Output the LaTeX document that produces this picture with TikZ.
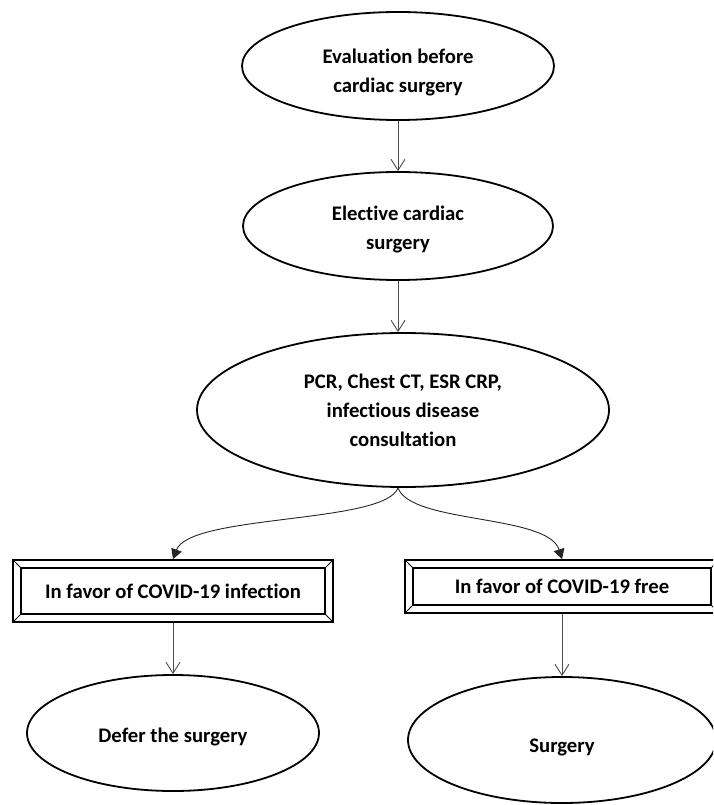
\documentclass[tikz,border=0pt]{standalone}
\usepackage{fontspec}
\setmainfont{Carlito}[Ligatures=NoCommon]
\usetikzlibrary{shapes,arrows,arrows.meta}
\tikzstyle{oval} = [ellipse, draw = black, line width=1.8pt, inner sep=0pt, align=center]
\tikzstyle{choice} = [rectangle, draw = black, line width=1.8pt, inner sep=0pt,
                      path picture={
                        \draw[line width=1.4pt]
                          ([xshift=8pt,yshift=8pt]path picture bounding box.south west) rectangle
                          ([xshift=-8pt,yshift=-8pt]path picture bounding box.north east);
                        \draw[line width=1pt]
                          (path picture bounding box.south west) -- ++(8pt,8pt)
                          (path picture bounding box.north west) -- ++(8pt,-8pt)
                          (path picture bounding box.south east) -- ++(-8pt,8pt)
                          (path picture bounding box.north east) -- ++(-8pt,-8pt);}]
\tikzstyle{line} = [draw, draw=black!70, line width=0.9pt, -{Straight Barb[length=11pt,width=14pt]}]
\tikzstyle{branch} = [draw, draw=black!85, line width=0.9pt, -{Triangle[length=10pt,width=11pt]}]
% pushes the text of an oval a little down
\newcommand{\tdown}[1]{\rule{0pt}{\dimexpr\fontcharht\font`h+#1\relax}}

\begin{document}
\begin{tikzpicture}[x=1pt, y=-1pt,
                    font=\fontsize{20.7}{29}\selectfont\bfseries]

    \clip (0,0) rectangle (713,805);

    \node (eval)   [oval, minimum width=312pt, minimum height=108pt]
                   at (398,66)  {\tdown{12pt}Evaluation before\\cardiac surgery};
    \node (elect)  [oval, minimum width=310pt, minimum height=108pt]
                   at (398,226) {\tdown{6pt}Elective cardiac\\surgery};
    \node (tests)  [oval, minimum width=412pt, minimum height=154pt]
                   at (403,410) {PCR, Chest CT, ESR CRP,\\infectious disease\\consultation};
    \node (infect) [choice, minimum width=320pt, minimum height=62pt]
                   at (173,591) {In favor of COVID-19 infection};
    \node (free)   [choice, minimum width=314pt, minimum height=53pt]
                   at (562,586.5) {In favor of COVID-19 free};
    \node (defer)  [oval, minimum width=292pt, minimum height=116pt]
                   at (173,733) {\tdown{8pt}Defer the surgery};
    \node (surg)   [oval, minimum width=308pt, minimum height=126pt]
                   at (562,740) {\tdown{14pt}Surgery};

    \path [line]   (eval)  -- (elect);
    \path [line]   (elect) -- (elect.south |- tests.north);
    \path [branch] (elect.south |- tests.south) .. controls +(-13,36) and +(17,-45) .. (infect.north);
    \path [branch] (elect.south |- tests.south) .. controls +(13,36) and +(-14,-45) .. (free.north);
    \path [line]   (infect) -- (defer);
    \path [line]   (free)   -- (surg);
  \end{tikzpicture}
\end{document}
